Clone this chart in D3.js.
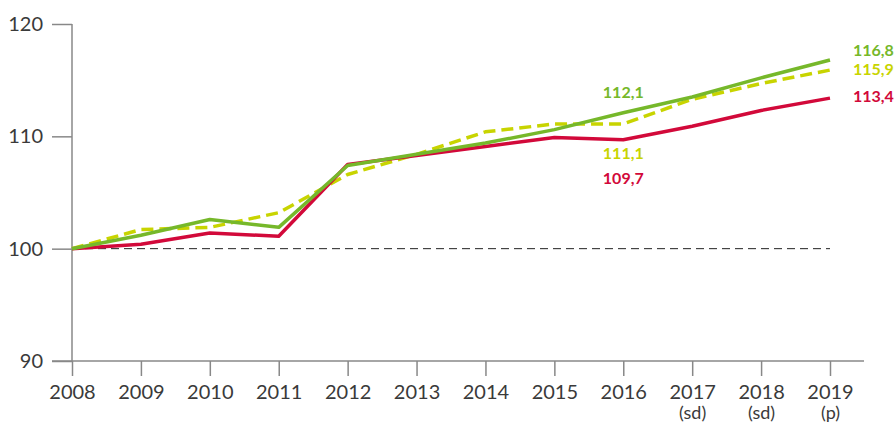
<!DOCTYPE html>
<html>
<head>
<meta charset="utf-8">
<script src="https://cdn.jsdelivr.net/npm/d3@7"></script>
<style>
  body { margin: 0; background: #fff; }
  svg text { font-family: "Lato", "Noto Sans", sans-serif; }
</style>
</head>
<body>
<div id="chart"></div>
<script>
const years = ["2008", "2009", "2010", "2011", "2012", "2013", "2014", "2015", "2016", "2017", "2018", "2019"];
const yearNotes = ["", "", "", "", "", "", "", "", "", "(sd)", "(sd)", "(p)"];
const redValues = [100, 100.4, 101.4, 101.1, 107.5, 108.3, 109.1, 109.9, 109.7, 110.9, 112.3, 113.4];
const greenValues = [100, 101.2, 102.6, 101.9, 107.4, 108.4, 109.4, 110.6, 112.1, 113.5, 115.2, 116.8];
const yellowValues = [100, 101.7, 101.9, 103.2, 106.6, 108.4, 110.4, 111.1, 111.1, 113.3, 114.7, 115.9];
const yTicks = [90, 100, 110, 120];

const width = 895, height = 425;
const margin = { top: 24, right: 65, bottom: 64, left: 72 };

const svg = d3.select("#chart").append("svg")
    .attr("width", width)
    .attr("height", height);

const x = d3.scalePoint()
    .domain(years)
    .range([margin.left, width - margin.right]);

const y = d3.scaleLinear()
    .domain([90, 120])
    .range([height - margin.bottom, margin.top]);

// reference line at 100
svg.append("line")
    .attr("x1", x("2008")).attr("x2", x("2019"))
    .attr("y1", y(100)).attr("y2", y(100))
    .attr("stroke", "#222")
    .attr("stroke-width", 1)
    .attr("stroke-dasharray", "8,5");

// y axis
const yAxis = svg.append("g")
    .attr("transform", `translate(${margin.left},0)`)
    .call(d3.axisLeft(y).tickValues(yTicks).tickSize(20).tickPadding(9));
yAxis.select(".domain").remove();
yAxis.append("line")
    .attr("y1", y(120)).attr("y2", y(90))
    .attr("stroke", "#888").attr("stroke-width", 1.5);
yAxis.selectAll(".tick line").attr("stroke", "#888").attr("stroke-width", 1.5);
yAxis.selectAll(".tick text")
    .attr("fill", "#3a3a3a")
    .style("font-size", "20px");

// x axis
const xAxis = svg.append("g")
    .attr("transform", `translate(0,${y(90)})`)
    .call(d3.axisBottom(x).tickSize(15).tickPadding(9));
xAxis.select(".domain").remove();
xAxis.append("line")
    .attr("x1", margin.left - 20).attr("x2", width - 31)
    .attr("stroke", "#888").attr("stroke-width", 1.5);
xAxis.selectAll(".tick line").attr("stroke", "#888").attr("stroke-width", 1.5);
xAxis.selectAll(".tick text")
    .attr("fill", "#3a3a3a")
    .style("font-size", "20px");
xAxis.selectAll(".tick").each(function (d, i) {
    if (yearNotes[i]) {
        d3.select(this).append("text")
            .attr("y", 58)
            .attr("fill", "#3a3a3a")
            .attr("text-anchor", "middle")
            .style("font-size", "18px")
            .text(yearNotes[i]);
    }
});

const line = d3.line()
    .x((d, i) => x(years[i]))
    .y(d => y(d));

const series = [
    { values: yellowValues, color: "#c8d400", dash: "12,6" },
    { values: redValues, color: "#d2093a", dash: null },
    { values: greenValues, color: "#76b82a", dash: null }
];

series.forEach(s => {
    svg.append("path")
        .datum(s.values)
        .attr("fill", "none")
        .attr("stroke", s.color)
        .attr("stroke-width", 3.5)
        .attr("stroke-linejoin", "round")
        .attr("stroke-dasharray", s.dash)
        .attr("d", line);
});

// value labels
const labels = [
    { text: "116,8", color: "#76b82a", year: "2019", value: greenValues[11], dx: 23, dy: -8 },
    { text: "115,9", color: "#c8d400", year: "2019", value: yellowValues[11], dx: 23, dy: 1 },
    { text: "113,4", color: "#d2093a", year: "2019", value: redValues[11], dx: 23, dy: 0 },
    { text: "112,1", color: "#76b82a", year: "2016", value: greenValues[8], dx: 0, dy: -19 },
    { text: "111,1", color: "#c8d400", year: "2016", value: yellowValues[8], dx: 0, dy: 31 },
    { text: "109,7", color: "#d2093a", year: "2016", value: redValues[8], dx: 0, dy: 40 }
];

svg.selectAll(".value-label")
    .data(labels)
    .enter()
    .append("text")
    .attr("class", "value-label")
    .attr("x", d => x(d.year) + d.dx)
    .attr("y", d => y(d.value) + d.dy)
    .attr("dominant-baseline", "middle")
    .attr("text-anchor", d => d.dx > 0 ? "start" : "middle")
    .attr("fill", d => d.color)
    .style("font-size", "16px")
    .style("font-weight", "bold")
    .text(d => d.text);
</script>
</body>
</html>
